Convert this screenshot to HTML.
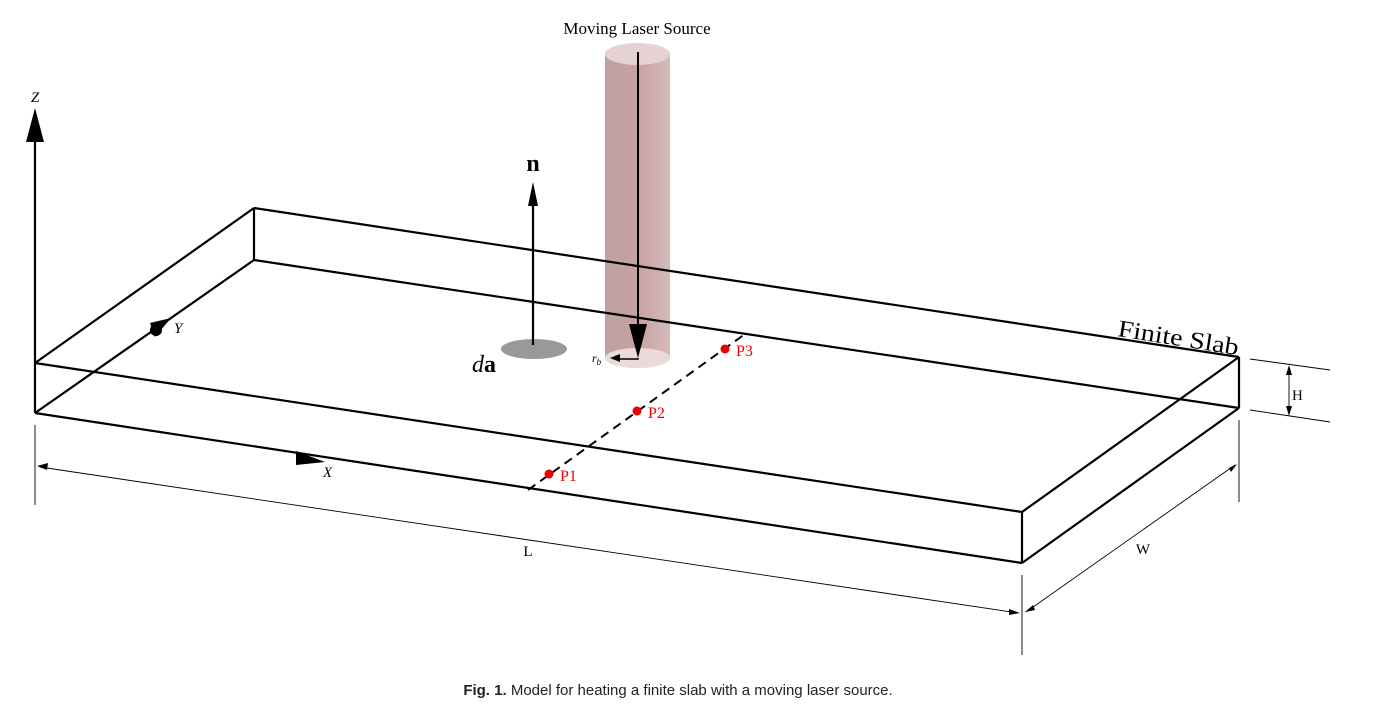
<!DOCTYPE html>
<html><head><meta charset="utf-8"><style>
html,body{margin:0;padding:0;background:#fff;}
svg{display:block;}
</style></head><body>
<svg width="1382" height="713" viewBox="0 0 1382 713" xmlns="http://www.w3.org/2000/svg">
<defs>
<linearGradient id="cyl" x1="0" x2="1" y1="0" y2="0">
<stop offset="0" stop-color="#bda3a3"/>
<stop offset="0.5" stop-color="#c9a0a0"/>
<stop offset="1" stop-color="#d4bcbc"/>
</linearGradient>
</defs>
<rect x="605" y="54" width="65" height="304" fill="url(#cyl)"/>
<ellipse cx="637.5" cy="54" rx="32.5" ry="11" fill="#e6d2d2"/>
<ellipse cx="637.5" cy="358" rx="32.5" ry="10" fill="#ecdada"/>
<g stroke="#000" stroke-width="2.2" fill="none" stroke-linejoin="round">
<line x1="35" y1="363" x2="254" y2="208"/>
<line x1="35" y1="413" x2="254" y2="260"/>
<line x1="254" y1="208" x2="254" y2="260"/>
<line x1="254" y1="208" x2="1239" y2="357"/>
<line x1="254" y1="260" x2="1239" y2="408"/>
<line x1="35" y1="363" x2="1022" y2="512"/>
<line x1="35" y1="413" x2="1022" y2="563"/>
<line x1="1022" y1="512" x2="1022" y2="563"/>
<line x1="1239" y1="357" x2="1239" y2="408"/>
<line x1="1022" y1="512" x2="1239" y2="357"/>
<line x1="1022" y1="563" x2="1239" y2="408"/>
<line x1="35" y1="413" x2="35" y2="135"/>
</g>
<polygon points="35,108 26,142 44,142" fill="#000"/>
<polygon points="171,318 150,323 155,337" fill="#000"/>
<circle cx="156" cy="330" r="6" fill="#000"/>
<polygon points="325,462 296,451 296,465" fill="#000"/>
<g stroke="#000" stroke-width="0.9" fill="none">
<line x1="35" y1="425" x2="35" y2="505"/>
<line x1="1022" y1="575" x2="1022" y2="655"/>
<line x1="1239" y1="420" x2="1239" y2="502"/>
<line x1="40" y1="467" x2="1018" y2="613"/>
<line x1="1026" y1="612" x2="1235" y2="465"/>
<line x1="1250" y1="359" x2="1330" y2="370"/>
<line x1="1250" y1="410" x2="1330" y2="422"/>
<line x1="1289" y1="370" x2="1289" y2="413"/>
</g>
<polygon points="37,466 48,463 47,470" fill="#000"/>
<polygon points="1020,613 1009,609 1009,615" fill="#000"/>
<polygon points="1025,612 1033,605 1035,610" fill="#000"/>
<polygon points="1237,464 1229,468 1231,472" fill="#000"/>
<polygon points="1289,365 1286,375 1292,375" fill="#000"/>
<polygon points="1289,416 1286,406 1292,406" fill="#000"/>
<line x1="528" y1="490" x2="745" y2="334" stroke="#000" stroke-width="2" stroke-dasharray="9,6"/>
<circle cx="549" cy="474" r="4.5" fill="#e00"/>
<circle cx="637" cy="411" r="4.5" fill="#e00"/>
<circle cx="725" cy="349" r="4.5" fill="#e00"/>
<ellipse cx="534" cy="349" rx="33" ry="10" fill="#999"/>
<line x1="533" y1="345" x2="533" y2="200" stroke="#000" stroke-width="2.2"/>
<polygon points="533,182 528,206 538,206" fill="#000"/>
<line x1="638" y1="52" x2="638" y2="330" stroke="#000" stroke-width="2"/>
<polygon points="638,358 629,324 647,324" fill="#000"/>
<polyline points="638,358 638,359 614,359" stroke="#000" stroke-width="1.5" fill="none"/>
<polygon points="610,358 620,354 620,362" fill="#000"/>
<g font-family="'Liberation Serif', serif" fill="#000">
<text x="637" y="34" font-size="17" text-anchor="middle">Moving Laser Source</text>
<text x="533" y="171" font-size="24" font-weight="bold" text-anchor="middle">n</text>
<text x="472" y="372" font-size="24"><tspan font-style="italic">d</tspan><tspan font-weight="bold">a</tspan></text>
<text x="592" y="362" font-size="12" font-style="italic">r<tspan font-size="9" dy="3">b</tspan></text>
<text x="35" y="102" font-size="15" font-style="italic" text-anchor="middle">Z</text>
<text x="174" y="333" font-size="15" font-style="italic">Y</text>
<text x="323" y="477" font-size="15" font-style="italic">X</text>
<text x="1117" y="336" font-size="24" font-style="normal" textLength="122" lengthAdjust="spacingAndGlyphs" transform="rotate(9 1117 336)">Finite Slab</text>
<text x="1292" y="400" font-size="15">H</text>
<text x="528" y="556" font-size="15" text-anchor="middle">L</text>
<text x="1143" y="554" font-size="15" text-anchor="middle">W</text>
<text x="560" y="481" font-size="16" fill="#e00">P1</text>
<text x="648" y="418" font-size="16" fill="#e00">P2</text>
<text x="736" y="356" font-size="16" fill="#e00">P3</text>
</g>
<text x="678" y="695" font-family="'Liberation Sans', sans-serif" font-size="15" text-anchor="middle" fill="#222"><tspan font-weight="bold">Fig. 1.</tspan>  Model for heating a finite slab with a moving laser source.</text>
</svg>
</body></html>
